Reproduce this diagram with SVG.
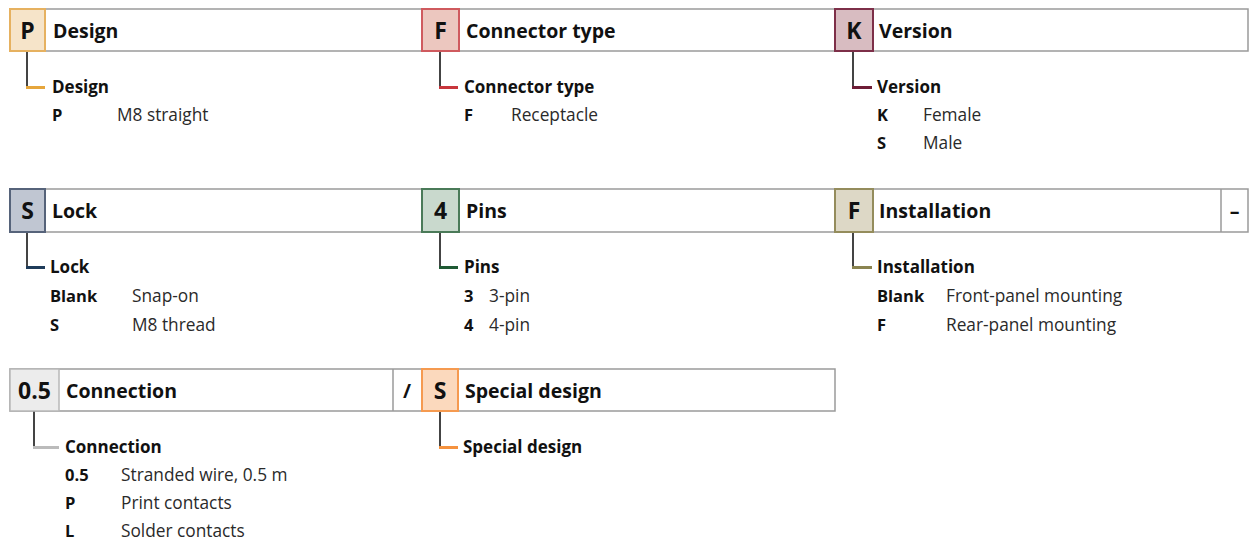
<svg xmlns="http://www.w3.org/2000/svg" width="1250" height="540" viewBox="0 0 1250 540">
<style>
.bar{fill:#fff;stroke:#9a9a9a;stroke-width:1.5}
.code{font-family:"Open Sans",sans-serif;font-weight:700;font-size:23px;fill:#111;text-anchor:middle}
.title{font-family:"Open Sans",sans-serif;font-weight:700;font-size:19.5px;fill:#111}
.sub{font-family:"Open Sans",sans-serif;font-weight:700;font-size:17px;fill:#111}
.k{font-family:"Open Sans",sans-serif;font-weight:700;font-size:16.5px;fill:#111}
.v{font-family:"Open Sans",sans-serif;font-size:17.3px;fill:#2a2a2a}
.vl{fill:none;stroke:#444;stroke-width:2}
.stub{fill:none;stroke-width:3}
</style>
<rect width="1250" height="540" fill="#fff"/>
<g id="bars">
<rect class="bar" x="10" y="9" width="1238" height="42"/>
<rect class="bar" x="10" y="189" width="1238" height="43"/>
<line x1="1221" y1="189" x2="1221" y2="232" stroke="#9a9a9a" stroke-width="1.5"/>
<text class="title" x="1234.5" y="218" text-anchor="middle">–</text>
<rect class="bar" x="10" y="369" width="825" height="42"/>
<line x1="393" y1="369" x2="393" y2="411" stroke="#9a9a9a" stroke-width="1.5"/>
<text class="title" x="407" y="398" text-anchor="middle">/</text>
</g>
<g id="connectors">
<path class="vl" d="M27,51 V88 H35"/>
<line class="stub" x1="26" y1="87.5" x2="45" y2="87.5" stroke="#e6a63c"/>
<path class="vl" d="M440,51 V88 H448"/>
<line class="stub" x1="439" y1="87.5" x2="458" y2="87.5" stroke="#c8363c"/>
<path class="vl" d="M853,51 V88 H861"/>
<line class="stub" x1="852" y1="87.5" x2="872" y2="87.5" stroke="#6e1c36"/>
<path class="vl" d="M27,232 V268 H35"/>
<line class="stub" x1="26" y1="267.5" x2="45" y2="267.5" stroke="#1f3c5a"/>
<path class="vl" d="M440,232 V268 H448"/>
<line class="stub" x1="439" y1="267.5" x2="458" y2="267.5" stroke="#1f5a34"/>
<path class="vl" d="M853,232 V268 H861"/>
<line class="stub" x1="852" y1="267.5" x2="872" y2="267.5" stroke="#8a8450"/>
<path class="vl" d="M34,411 V448 H42"/>
<line class="stub" x1="33" y1="447.5" x2="59" y2="447.5" stroke="#bbbbbb"/>
<path class="vl" d="M440,411 V448 H448"/>
<line class="stub" x1="439" y1="447.5" x2="458" y2="447.5" stroke="#f5923e"/>
</g>
<g id="design">
<rect x="10" y="9" width="35" height="42" fill="#f6e4c9" stroke="#e6b160" stroke-width="2"/>
<text class="code" x="27.5" y="39">P</text>
<text class="title" x="53" y="38">Design</text>
<text class="sub" x="52" y="93">Design</text>
<text class="k" x="52" y="121">P</text><text class="v" x="117" y="121">M8 straight</text>
</g>
<g id="connector-type">
<rect x="422" y="9" width="37" height="42" fill="#ecc7bf" stroke="#cf5a5e" stroke-width="2"/>
<text class="code" x="440.5" y="39">F</text>
<text class="title" x="466" y="38">Connector type</text>
<text class="sub" x="464" y="93">Connector type</text>
<text class="k" x="464" y="121">F</text><text class="v" x="511" y="121">Receptacle</text>
</g>
<g id="version">
<rect x="835" y="9" width="38" height="42" fill="#d8bcc1" stroke="#7d2f48" stroke-width="2"/>
<text class="code" x="854" y="39">K</text>
<text class="title" x="879" y="38">Version</text>
<text class="sub" x="877" y="93">Version</text>
<text class="k" x="877" y="121">K</text><text class="v" x="923" y="121">Female</text>
<text class="k" x="877" y="149">S</text><text class="v" x="923" y="149">Male</text>
</g>
<g id="lock">
<rect x="10" y="189" width="35" height="43" fill="#c0c6d2" stroke="#56637a" stroke-width="2"/>
<text class="code" x="27.5" y="219">S</text>
<text class="title" x="52" y="218">Lock</text>
<text class="sub" x="50" y="273">Lock</text>
<text class="k" x="50" y="302">Blank</text><text class="v" x="132" y="302">Snap-on</text>
<text class="k" x="50" y="331">S</text><text class="v" x="132" y="331">M8 thread</text>
</g>
<g id="pins">
<rect x="422" y="189" width="37" height="43" fill="#c9d9cd" stroke="#4a7a58" stroke-width="2"/>
<text class="code" x="440.5" y="219">4</text>
<text class="title" x="466" y="218">Pins</text>
<text class="sub" x="464" y="273">Pins</text>
<text class="k" x="464" y="302">3</text><text class="v" x="489" y="302">3-pin</text>
<text class="k" x="464" y="331">4</text><text class="v" x="489" y="331">4-pin</text>
</g>
<g id="installation">
<rect x="835" y="189" width="38" height="43" fill="#ddd8c6" stroke="#948c5c" stroke-width="2"/>
<text class="code" x="854" y="219">F</text>
<text class="title" x="879" y="218">Installation</text>
<text class="sub" x="877" y="273">Installation</text>
<text class="k" x="877" y="302">Blank</text><text class="v" x="946" y="302">Front-panel mounting</text>
<text class="k" x="877" y="331">F</text><text class="v" x="946" y="331">Rear-panel mounting</text>
</g>
<g id="connection">
<rect x="10" y="369" width="49" height="42" fill="#ececec" stroke="#b8b8b8" stroke-width="1.5"/>
<text class="code" x="34.5" y="399">0.5</text>
<text class="title" x="66" y="398">Connection</text>
<text class="sub" x="65" y="453">Connection</text>
<text class="k" x="65" y="481">0.5</text><text class="v" x="121" y="481">Stranded wire, 0.5 m</text>
<text class="k" x="65" y="509">P</text><text class="v" x="121" y="509">Print contacts</text>
<text class="k" x="65" y="537">L</text><text class="v" x="121" y="537">Solder contacts</text>
</g>
<g id="special-design">
<rect x="422" y="369" width="36" height="42" fill="#fbd9bd" stroke="#f59a50" stroke-width="2"/>
<text class="code" x="440" y="399">S</text>
<text class="title" x="465" y="398">Special design</text>
<text class="sub" x="463" y="453">Special design</text>
</g>
</svg>
